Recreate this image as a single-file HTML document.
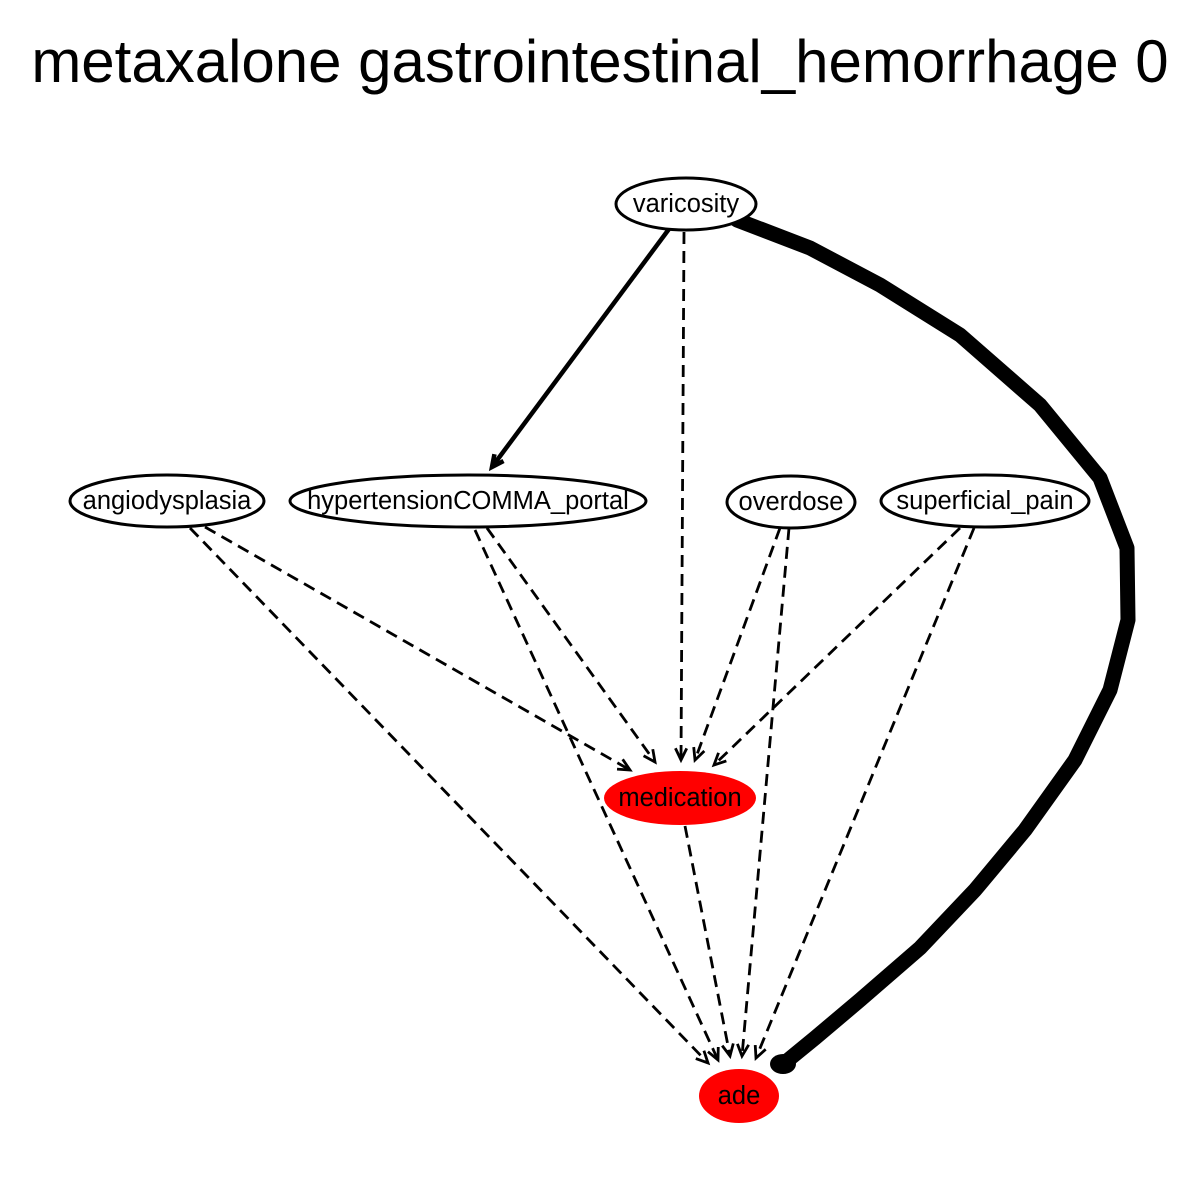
<!DOCTYPE html>
<html><head><meta charset="utf-8"><style>
body{margin:0;background:#fff;}
svg{display:block;}
text{font-family:"Liberation Sans",sans-serif;}
</style></head><body>
<svg id="g" width="1200" height="1200" viewBox="0 0 1200 1200">
<text x="600" y="82" text-anchor="middle" font-size="60">metaxalone gastrointestinal_hemorrhage 0</text>
</svg>
<script>
const nodeNames=["varicosity","angiodysplasia","hypertensionCOMMA_portal","overdose","superficial_pain","medication","ade"];
const nodeCx=[686,167,468,791,985,680,739];
const nodeCy=[204,501,501,502,501,798,1096];
const nodeRx=[70,97,178,64,104,76,40];
const nodeRed=[0,0,0,0,0,1,1];
const edgeFrom=[0,0,1,1,2,2,3,3,4,4,5];
const edgeTo=[2,5,5,6,5,6,5,6,5,6,6];
const edgeSolid=[1,0,0,0,0,0,0,0,0,0,0];
const edgePts=[[669,229,492,467],[684,232,681,760],[205,527,630,770],[190,528,708,1063],[487,528,655,762],[475,530,718,1060],[780,528,695,760],[789,528,742,1056],[960,528,714,765],[974,528,756,1058],[685,826,730,1056]];
const curve=[[737,220],[810,248],[880,285],[960,335],[1040,405],[1100,478],[1127,548],[1128,620],[1110,690],[1075,760],[1025,830],[975,890],[920,948],[860,1000],[815,1038],[782,1065]];
const NS="http://www.w3.org/2000/svg";
const svg=document.getElementById('g');
function mk(t,a){const e=document.createElementNS(NS,t);for(const k in a)e.setAttribute(k,a[k]);return e;}
for(let i=0;i<edgePts.length;i++){
  const [x1,y1,x2,y2]=edgePts[i];
  const l=mk('line',{x1:x1,y1:y1,x2:x2,y2:y2,stroke:'#000','stroke-width':edgeSolid[i]?4.5:2.8});
  if(!edgeSolid[i])l.setAttribute('stroke-dasharray','12,7');
  
  
  svg.appendChild(l);
  const a=Math.atan2(y2-y1,x2-x1),L=13,s=0.45;
  const p=`M${x2-L*Math.cos(a-s)},${y2-L*Math.sin(a-s)} L${x2},${y2} L${x2-L*Math.cos(a+s)},${y2-L*Math.sin(a+s)}`;
  const h=mk('path',{d:p,fill:'none',stroke:'#000','stroke-width':edgeSolid[i]?4.5:2.8});
  
  
  svg.appendChild(h);
}
const c=mk('polyline',{points:curve.map(p=>p.join(',')).join(' '),fill:'none',stroke:'#000','stroke-width':15,'stroke-linecap':'round','stroke-linejoin':'round'});


svg.appendChild(c);
const hd=mk('ellipse',{cx:783,cy:1064,rx:13,ry:10,fill:'#000'});


svg.appendChild(hd);
for(let i=0;i<nodeNames.length;i++){
  const g=mk('g',{});
  
  
  g.appendChild(mk('ellipse',{cx:nodeCx[i],cy:nodeCy[i],rx:nodeRx[i],ry:nodeRed[i]?27:26,fill:nodeRed[i]?'#ff0000':'#fff',stroke:nodeRed[i]?'none':'#000','stroke-width':3}));
  const t=mk('text',{x:nodeCx[i],y:nodeCy[i]+8,'text-anchor':'middle','font-size':25.5});
  t.textContent=nodeNames[i];
  g.appendChild(t);
  svg.appendChild(g);
}
</script>
</body></html>
